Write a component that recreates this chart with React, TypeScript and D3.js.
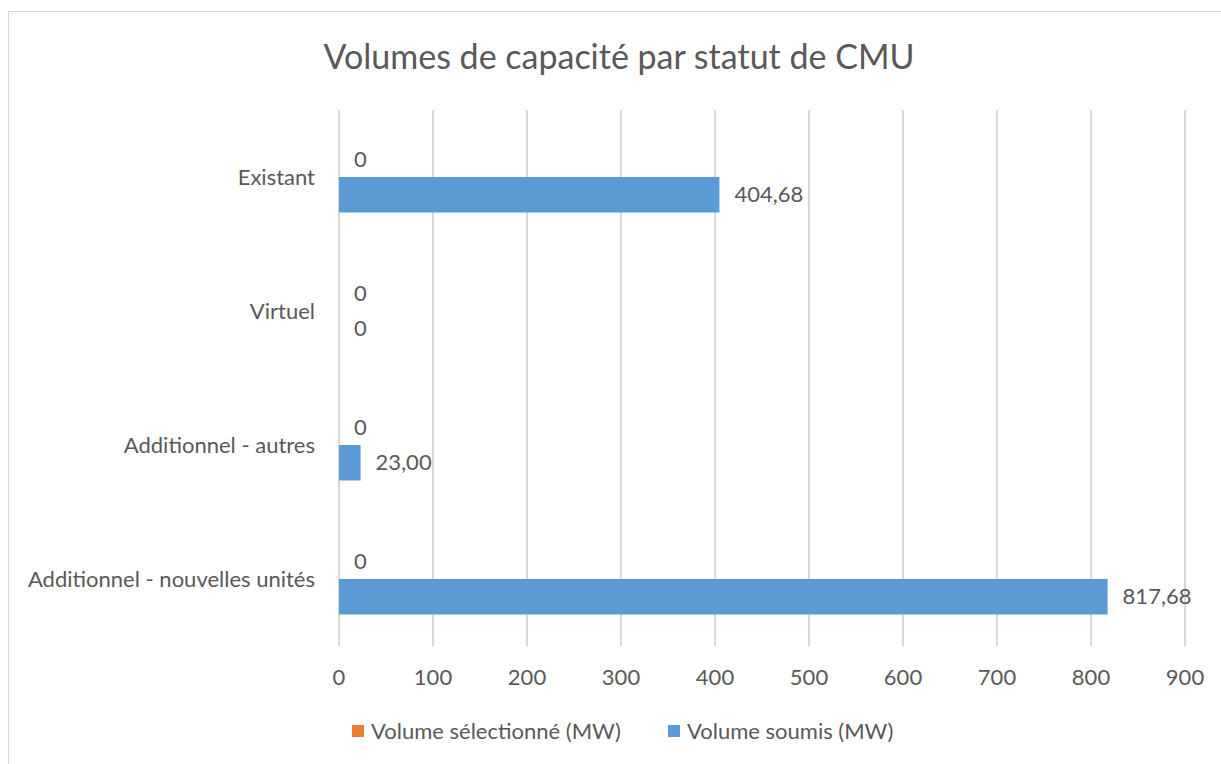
import { useEffect, useRef } from 'react';
import * as d3 from 'd3';

const categories = ['Existant', 'Virtuel', 'Additionnel - autres', 'Additionnel - nouvelles unités'];
const seriesNames = ['Volume sélectionné (MW)', 'Volume soumis (MW)'];
const selectedValues = [0, 0, 0, 0];
const submittedValues = [404.68, 0, 23.0, 817.68];
const xTicks = [0, 100, 200, 300, 400, 500, 600, 700, 800, 900];

const W = 1221;
const H = 764;
const FONT = 'Lato, "Open Sans", sans-serif';
const TEXT = '#595959';
const COLORS = ['#ED7D31', '#5B9BD5'];
const FS = 22;

const fmt = (v: number) => (v === 0 ? '0' : v.toFixed(2).replace('.', ','));

export default function App() {
  const svgRef = useRef<SVGSVGElement | null>(null);

  useEffect(() => {
    const svg = d3.select(svgRef.current);
    svg.selectAll('*').remove();

    const plot = { left: 339, right: 1185, top: 110, bottom: 646 };

    // chart frame (only top/left edges fall inside the picture)
    svg.append('rect')
      .attr('x', 8.5).attr('y', 11.5)
      .attr('width', W + 20).attr('height', H + 20)
      .attr('fill', '#fff')
      .attr('stroke', '#D9D9D9');

    svg.append('text')
      .attr('x', 619).attr('y', 69)
      .attr('text-anchor', 'middle')
      .attr('font-family', FONT)
      .attr('font-size', 34)
      .attr('fill', TEXT)
      .text('Volumes de capacité par statut de CMU');

    const x = d3.scaleLinear().domain([0, 900]).range([plot.left, plot.right]);
    const y = d3.scaleBand<string>()
      .domain(categories)
      .range([plot.top, plot.bottom])
      .paddingInner(0.47)
      .paddingOuter(0.235);
    const inner = d3.scaleBand<number>()
      .domain([0, 1])
      .range([0, y.bandwidth()]);

    // gridlines
    svg.append('g')
      .selectAll('line')
      .data(xTicks)
      .join('line')
      .attr('x1', d => x(d)).attr('x2', d => x(d))
      .attr('y1', plot.top).attr('y2', plot.bottom)
      .attr('stroke', '#D9D9D9')
      .attr('stroke-width', 2);

    // tick labels
    svg.append('g')
      .selectAll('text')
      .data(xTicks)
      .join('text')
      .attr('x', d => x(d))
      .attr('y', 677)
      .attr('dy', '0.35em')
      .attr('text-anchor', 'middle')
      .attr('font-family', FONT)
      .attr('font-size', FS)
      .attr('fill', TEXT)
      .text(d => String(d));

    // category labels
    svg.append('g')
      .selectAll('text')
      .data(categories)
      .join('text')
      .attr('x', 315)
      .attr('y', d => (y(d) as number) + y.bandwidth() / 2)
      .attr('dy', '0.35em')
      .attr('text-anchor', 'end')
      .attr('font-family', FONT)
      .attr('font-size', FS)
      .attr('fill', TEXT)
      .text(d => d);

    const series = [selectedValues, submittedValues];
    series.forEach((vals, si) => {
      const g = svg.append('g');
      const rows = categories.map((c, i) => ({ c, v: vals[i] }));
      g.selectAll('rect')
        .data(rows)
        .join('rect')
        .attr('x', x(0))
        .attr('y', d => (y(d.c) as number) + (inner(si) as number))
        .attr('width', d => x(d.v) - x(0))
        .attr('height', inner.bandwidth())
        .attr('fill', COLORS[si]);
      g.selectAll('text')
        .data(rows)
        .join('text')
        .attr('x', d => x(d.v) + 15)
        .attr('y', d => (y(d.c) as number) + (inner(si) as number) + inner.bandwidth() / 2)
        .attr('dy', '0.35em')
        .attr('font-family', FONT)
        .attr('font-size', FS)
        .attr('fill', TEXT)
        .text(d => fmt(d.v));
    });

    // legend
    const legendX = [352, 668];
    const legend = svg.append('g')
      .selectAll('g')
      .data(seriesNames)
      .join('g')
      .attr('transform', (_d, i) => `translate(${legendX[i]},731)`);
    legend.append('rect')
      .attr('x', 0).attr('y', -6)
      .attr('width', 12).attr('height', 12)
      .attr('fill', (_d, i) => COLORS[i]);
    legend.append('text')
      .attr('x', 19)
      .attr('dy', '0.35em')
      .attr('font-family', FONT)
      .attr('font-size', FS)
      .attr('fill', TEXT)
      .text(d => d);
  }, []);

  return (
    <svg
      ref={svgRef}
      width={W}
      height={H}
      style={{ position: 'fixed', left: 0, top: 0, background: '#fff' }}
    />
  );
}
